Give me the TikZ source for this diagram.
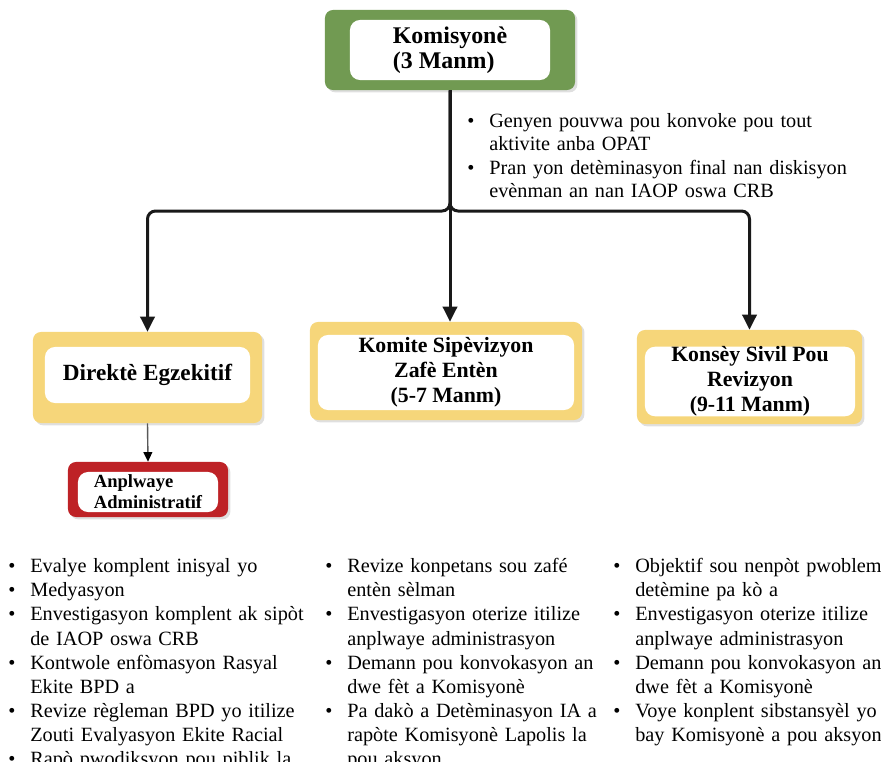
\documentclass[tikz,border=0pt]{standalone}
\usepackage{fontspec}
\setmainfont{Liberation Serif}
\usetikzlibrary{arrows.meta, shadows, calc}

\definecolor{komgreen}{RGB}{113,154,82}
\definecolor{boxyellow}{RGB}{246,214,122}
\definecolor{admred}{RGB}{190,34,38}
\definecolor{busline}{RGB}{25,25,25}

% bullet list used in the text columns
\newenvironment{blist}
  {\begin{list}{\textbullet}{%
     \setlength{\leftmargin}{5.5mm}\setlength{\labelwidth}{5.5mm}%
     \setlength{\labelsep}{0pt}\setlength{\itemsep}{0pt}%
     \setlength{\parsep}{0pt}\setlength{\topsep}{0pt}%
     \setlength{\partopsep}{0pt}%
     \renewcommand{\makelabel}[1]{##1\hfil}}}
  {\end{list}}

\begin{document}
\begin{tikzpicture}[x=0.025cm, y=-0.025cm,
    outer/.style={rounded corners=2mm, inner sep=0pt,
      drop shadow={opacity=0.25, shadow xshift=0.6mm, shadow yshift=-0.6mm}},
    inbox/.style={fill=white, rounded corners=2.5mm, inner sep=0pt,
      font=\bfseries\fontsize{15.5}{17.7}\selectfont},
    bus/.style={draw=busline, line width=0.75mm, rounded corners=2mm,
      -{Triangle[width=3.6mm,length=3.8mm]}},
    subarrow/.style={draw=black!65, line width=0.35mm,
      -{Triangle[width=2.2mm,length=2.4mm,color=black]}},
    notes/.style={anchor=north west, inner sep=0pt, text width=110mm,
      align=left, font=\fontsize{14.4}{17.2}\selectfont}]

    \useasboundingbox (0,0) rectangle (881,762);
    \clip (0,0) rectangle (881,762);

    % top box
    \node[outer, fill=komgreen, minimum width=62.5mm, minimum height=20mm] (kom) at (450,50) {};
    \node[inbox, minimum width=50mm, minimum height=15mm, align=left,
      font=\bfseries\fontsize{17}{17.7}\selectfont] (kom-in) at (450,50) {Komisyonè\\(3 Manm)};

    % second row
    \node[outer, fill=boxyellow, minimum width=57.25mm, minimum height=22.75mm] (dir) at (147.5,377.5) {};
    \node[inbox, minimum width=51.25mm, minimum height=14mm,
      font=\bfseries\fontsize{16.5}{18}\selectfont] (dir-in) at (147.5,375) {Direktè Egzekitif};

    \node[outer, fill=boxyellow, minimum width=68mm, minimum height=24.5mm] (com) at (446,371) {};
    \node[inbox, minimum width=64mm, minimum height=18.75mm, align=center] (com-in) at (446,372.5)
      {Komite Sipèvizyon\\Zafè Entèn\\(5-7 Manm)};

    \node[outer, fill=boxyellow, minimum width=56.25mm, minimum height=23.5mm] (con) at (749.5,377) {};
    \node[inbox, minimum width=52.5mm, minimum height=17.25mm, align=center] (con-in) at (750,381.5)
      {Konsèy Sivil Pou\\Revizyon\\(9-11 Manm)};

    \node[outer, fill=admred, minimum width=40mm, minimum height=13.75mm] (adm) at (148,489.5) {};
    \node[inbox, minimum width=35mm, minimum height=10mm, align=left,
      font=\bfseries\fontsize{13.2}{15}\selectfont] (adm-in) at (148,492) {Anplwaye\\Administratif};

    % connectors
    \coordinate (bus) at (450,211);
    \draw[bus] (kom.south) -- (bus) -| (dir.north);
    \draw[bus] (kom.south) -- (bus) -| (con.north);
    \draw[bus] (kom.south) -- (kom.south |- com.north);
    \draw[subarrow] (dir.south) -- (adm.north);

    % notes
    \node[notes, font=\fontsize{14.4}{16.6}\selectfont] (note-kom) at (467,104) {\begin{blist}
      \item Genyen pouvwa pou konvoke pou tout\newline aktivite anba OPAT
      \item Pran yon detèminasyon final nan diskisyon\newline evènman an nan IAOP oswa CRB
    \end{blist}};

    \node[notes] (note-dir) at (8,548) {\begin{blist}
      \item Evalye komplent inisyal yo
      \item Medyasyon
      \item Envestigasyon komplent ak sipòt\newline de IAOP oswa CRB
      \item Kontwole enfòmasyon Rasyal\newline Ekite BPD a
      \item Revize règleman BPD yo itilize\newline Zouti Evalyasyon Ekite Racial
      \item Rapò pwodiksyon pou piblik la
    \end{blist}};

    \node[notes] (note-com) at (325,548) {\begin{blist}
      \item Revize konpetans sou zafé\newline entèn sèlman
      \item Envestigasyon oterize itilize\newline anplwaye administrasyon
      \item Demann pou konvokasyon an\newline dwe fèt a Komisyonè
      \item Pa dakò a Detèminasyon IA a\newline rapòte Komisyonè Lapolis la\newline pou aksyon
    \end{blist}};

    \node[notes] (note-con) at (613,548) {\begin{blist}
      \item Objektif sou nenpòt pwoblem\newline detèmine pa kò a
      \item Envestigasyon oterize itilize\newline anplwaye administrasyon
      \item Demann pou konvokasyon an\newline dwe fèt a Komisyonè
      \item Voye konplent sibstansyèl yo\newline bay Komisyonè a pou aksyon
    \end{blist}};
\end{tikzpicture}
\end{document}
